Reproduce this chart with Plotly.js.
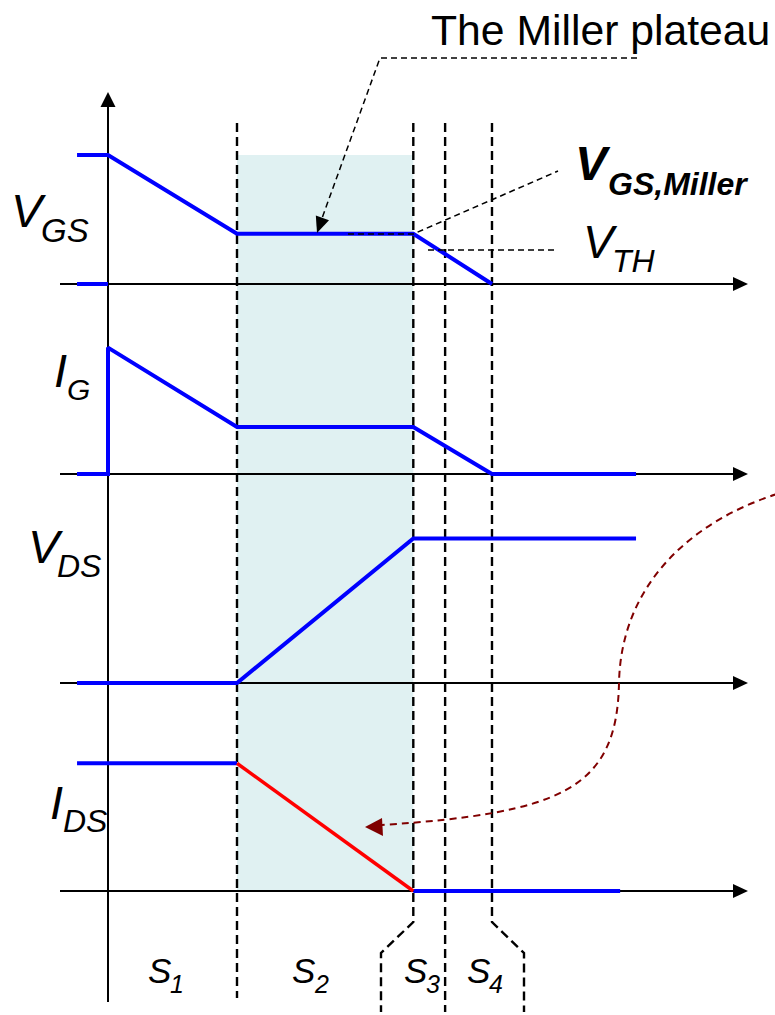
<!DOCTYPE html>
<html>
<head>
<meta charset="utf-8">
<script src="https://cdn.plot.ly/plotly-3.0.1.min.js"></script>
<style>html,body{margin:0;padding:0;background:#fff}#chart{width:775px;height:1015px}</style>
</head>
<body>
<div id="chart"></div>
<script>
// ---------- data (time in arbitrary units, levels normalised) ----------
const phaseBounds = [30, 71, 78.4, 89.3];          // ends of S1, S2, S3, S4
const phaseLabels = ["1", "2", "3", "4"];

const vgsT = [-7.2, 0, 30, 71, 89.3, null, -7.2, 0];
const vgsV = [1.0, 1.0, 0.39, 0.39, 0, null, 0, 0];

const igT = [-7.2, 0, 0, 30, 71, 89.3, 122.8];
const igV = [0, 0, 0.98, 0.365, 0.365, 0, 0];

const vdsT = [-7.2, 30, 71, 122.8];
const vdsV = [0, 0, 1.12, 1.12];

const idsOnT = [-7.2, 30];
const idsOnV = [0.99, 0.99];
const idsFallT = [30, 71];
const idsFallV = [0.99, 0];
const idsOffT = [71, 119.1];
const idsOffV = [0, 0];

// ---------- layout geometry ----------
const W = 775, H = 1015;
const PX_PER_T = 4.3, T0_PX = 108;          // time axis origin
const S = 129;                               // px per level unit
const panels = [                             // baseline pixel of each trace panel
  {name: "GS", base: 284},
  {name: "G",  base: 474},
  {name: "DS", base: 683},
  {name: "IDS", base: 891}
];
const tx = t => T0_PX + PX_PER_T * t;

const FONT = "Liberation Sans, Arial, Helvetica, sans-serif";
const BLUE = "#0000ff", RED = "#ff0000", DARKRED = "#800000";

const layout = {
  width: W, height: H,
  margin: {l: 0, r: 0, t: 0, b: 0},
  paper_bgcolor: "#fff", plot_bgcolor: "rgba(0,0,0,0)",
  showlegend: false,
  xaxis: {range: [-T0_PX / PX_PER_T, (W - T0_PX) / PX_PER_T], visible: false, fixedrange: true},
  xaxis2: {range: [0, W], visible: false, overlaying: "x", fixedrange: true},
  shapes: [], annotations: []
};
panels.forEach((p, i) => {
  const key = i === 0 ? "yaxis" : "yaxis" + (i + 1);
  layout[key] = {range: [(p.base - H) / S, p.base / S], visible: false, fixedrange: true, domain: [0, 1]};
  if (i > 0) layout[key].overlaying = "y";
});
layout.yaxis5 = {range: [H, 0], visible: false, overlaying: "y", fixedrange: true};

const sh = layout.shapes;
const P = (o) => Object.assign({xref: "x2", yref: "y5"}, o);

// shaded Miller region (S2)
sh.push({type: "rect", xref: "x", yref: "y5", x0: phaseBounds[0], x1: phaseBounds[1], y0: panels[0].base - S * vgsV[0], y1: panels[3].base,
  fillcolor: "#e0f1f2", line: {width: 0}, layer: "below"});

// vertical dashed phase lines
const dashV = {color: "#000", width: 2.4, dash: "9px,5px"};
sh.push(P({type: "line", x0: tx(phaseBounds[0]), x1: tx(phaseBounds[0]), y0: 123, y1: 998, line: dashV, layer: "below"}));
sh.push(P({type: "line", x0: tx(phaseBounds[2]), x1: tx(phaseBounds[2]), y0: 123, y1: 1012, line: dashV, layer: "below"}));
const b2 = tx(phaseBounds[1]), b4 = tx(phaseBounds[3]);
sh.push(P({type: "path", path: `M${b2},123 L${b2},922 L381,953 L381,1012`, line: dashV, layer: "below"}));
sh.push(P({type: "path", path: `M${b4},123 L${b4},922 L524,953 L524,1012`, line: dashV, layer: "below"}));

// vertical axis with arrow
sh.push(P({type: "line", x0: T0_PX, x1: T0_PX, y0: 105, y1: 1002, line: {color: "#000", width: 2}, layer: "below"}));
sh.push(P({type: "path", path: `M${T0_PX},92 L${T0_PX - 7.5},107 L${T0_PX + 7.5},107 Z`, fillcolor: "#000", line: {width: 0}, layer: "below"}));

// horizontal axes with arrows
panels.forEach(p => {
  sh.push(P({type: "line", x0: 60, x1: 736, y0: p.base, y1: p.base, line: {color: "#000", width: 2}, layer: "below"}));
  sh.push(P({type: "path", path: `M748,${p.base} L733,${p.base - 7} L733,${p.base + 7} Z`, fillcolor: "#000", line: {width: 0}, layer: "below"}));
});

// "The Miller plateau" callout
const thin = {color: "#000", width: 1.5, dash: "6px,4px"};
sh.push(P({type: "path", path: "M637,58 L380,58 L321,221", line: thin}));
(function () {
  const tip = [317, 233], from = [380, 58];
  const dx = tip[0] - from[0], dy = tip[1] - from[1], L = Math.hypot(dx, dy);
  const ux = dx / L, uy = dy / L, len = 16, hw = 7;
  const bx = tip[0] - ux * len, by = tip[1] - uy * len;
  sh.push(P({type: "path", path: `M${tip[0]},${tip[1]} L${bx - uy * hw},${by + ux * hw} L${bx + uy * hw},${by - ux * hw} Z`, fillcolor: "#000", line: {width: 0}}));
})();

// VGS,Miller and VTH leaders
sh.push(P({type: "path", path: `M348,234 L${b2},234 L558,171`, line: thin}));
sh.push(P({type: "line", x0: 428, x1: 558, y0: 250, y1: 250, line: thin}));

// dark red curved callout
sh.push(P({type: "path", path: "M777,494 C690,522 621,585 619,683 C617,790 560,813 382,825",
  line: {color: DARKRED, width: 2, dash: "7px,5px"}}));
sh.push(P({type: "path", path: "M365,827 L382,818 L383,836 Z", fillcolor: DARKRED, line: {width: 0}}));

// ---------- labels ----------
const ann = layout.annotations;
function label(x, baseline, text, size, opts) {
  opts = opts || {};
  let t = text;
  if (opts.italic) t = "<i>" + t + "</i>";
  if (opts.bold) t = "<b>" + t + "</b>";
  ann.push({xref: "x2", yref: "y5", x: x, y: baseline - 0.3465 * size, text: t, showarrow: false,
    xanchor: "left", yanchor: "middle", borderpad: 0, font: {family: FONT, size: size, color: "#000"}});
}
label(430, 45, "The Miller plateau", 42.7);
label(10, 227, "V", 47, {italic: true});  label(40, 242, "GS", 33, {italic: true});
label(53, 387, "I", 47, {italic: true});  label(66, 400, "G", 30, {italic: true});
label(27, 563, "V", 47, {italic: true});  label(56, 577, "DS", 32, {italic: true});
label(49, 819, "I", 47, {italic: true});  label(62, 832, "DS", 32, {italic: true});
label(574, 180, "V", 48, {italic: true, bold: true});  label(607, 195, "GS,Miller", 32, {italic: true, bold: true});
label(582, 258, "V", 46, {italic: true});  label(611, 272, "TH", 32, {italic: true});
const sX = [147, 291, 403, 466];
phaseLabels.forEach((d, i) => {
  label(sX[i], 983, "S", 35, {italic: true});
  label(sX[i] + 22, 993, d, 25, {italic: true});
});

// ---------- traces ----------
const ln = (c, w) => ({color: c, width: w || 4});
const traces = [
  {x: vgsT, y: vgsV, xaxis: "x", yaxis: "y", mode: "lines", line: ln(BLUE), connectgaps: false},
  {x: igT, y: igV, xaxis: "x", yaxis: "y2", mode: "lines", line: ln(BLUE)},
  {x: vdsT, y: vdsV, xaxis: "x", yaxis: "y3", mode: "lines", line: ln(BLUE)},
  {x: idsOnT, y: idsOnV, xaxis: "x", yaxis: "y4", mode: "lines", line: ln(BLUE)},
  {x: idsOffT, y: idsOffV, xaxis: "x", yaxis: "y4", mode: "lines", line: ln(BLUE)},
  {x: idsFallT, y: idsFallV, xaxis: "x", yaxis: "y4", mode: "lines", line: ln(RED, 3.5)},
  {x: [0], y: [0], xaxis: "x2", yaxis: "y5", mode: "markers", marker: {opacity: 0}, hoverinfo: "skip"}
];
traces.forEach(t => { t.hoverinfo = "skip"; });

Plotly.newPlot("chart", traces, layout, {staticPlot: true, displayModeBar: false});
</script>
</body>
</html>
